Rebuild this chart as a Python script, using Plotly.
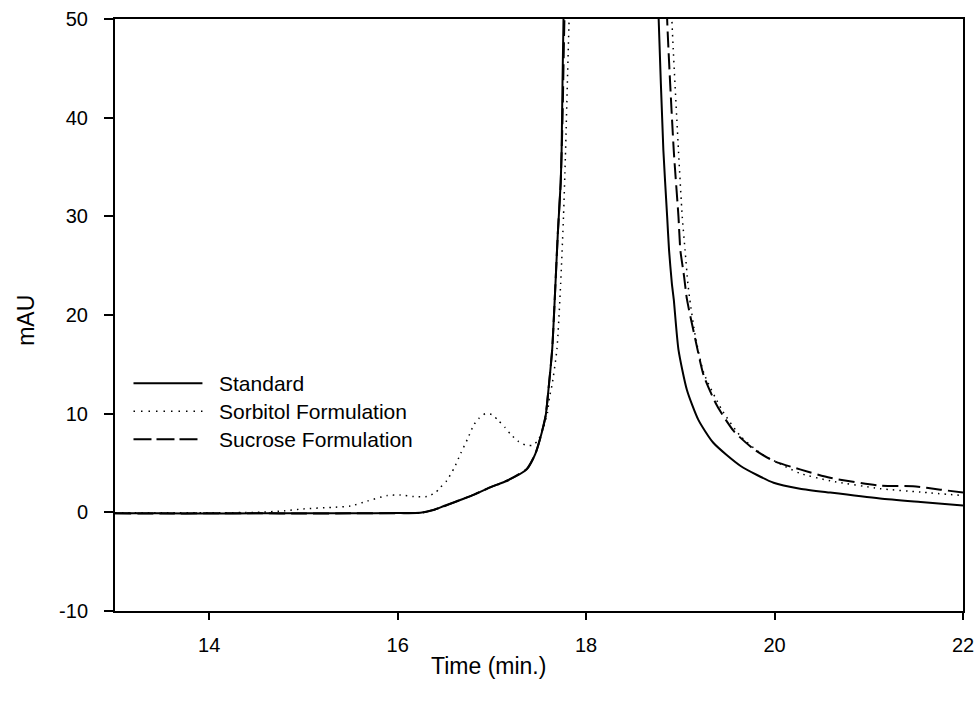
import plotly.graph_objects as go

# ---- data ----
standard_x = [13.0, 13.5, 14.0, 14.5, 15.0, 15.5, 16.0, 16.24, 16.38, 16.49, 16.65, 16.81, 17.0, 17.16,
              17.37, 17.46, 17.51, 17.57, 17.60, 17.64, 17.67, 17.70, 17.73, 17.74, 17.76, 17.80, 18.3,
              18.74, 18.77, 18.82, 18.86, 18.88, 18.91, 18.93, 18.98, 19.07, 19.19, 19.35, 19.64, 19.99,
              20.27, 20.59, 21.12, 21.55, 22.0]
standard_y = [-0.1, -0.1, -0.12, -0.1, -0.1, -0.1, -0.08, -0.05, 0.23, 0.64, 1.2, 1.8, 2.6, 3.2,
              4.35, 5.9, 7.4, 9.75, 12.4, 16.5, 22.2, 28.3, 33.4, 36.7, 50, 60, 200,
              60, 50, 36.7, 30, 26.6, 23.2, 21.6, 16.5, 12.4, 9.4, 7.05, 4.7, 3.0,
              2.4, 2.0, 1.4, 1.05, 0.7]

sorbitol_x = [13.0, 13.5, 14.0, 14.5, 14.8, 15.0, 15.3, 15.5, 15.68, 15.89, 16.03, 16.17, 16.31, 16.40,
              16.45, 16.52, 16.60, 16.67, 16.74, 16.81, 16.86, 16.93, 17.0, 17.07, 17.14, 17.20, 17.28,
              17.36, 17.43, 17.49, 17.55, 17.59, 17.61, 17.64, 17.69, 17.73, 17.76, 17.78, 17.82, 17.86,
              18.4, 18.88, 18.91, 18.98, 19.02, 19.05, 19.08, 19.10, 19.16, 19.25, 19.44, 19.64, 19.85,
              20.06, 20.27, 20.59, 21.12, 21.55, 22.0]
sorbitol_y = [-0.05, -0.05, -0.05, 0.0, 0.15, 0.35, 0.5, 0.64, 1.15, 1.7, 1.75, 1.6, 1.6, 2.0,
              2.5, 3.2, 4.5, 6.0, 7.4, 8.9, 9.5, 10.0, 9.9, 9.3, 8.6, 7.9, 7.2,
              6.8, 6.8, 7.3, 8.7, 10.1, 11.6, 13.0, 16.5, 23.2, 30, 36, 50, 60,
              200, 60, 50, 36.7, 30, 26.6, 23.2, 21.6, 17.8, 14.1, 10.4, 7.7, 6.0,
              4.9, 3.95, 3.2, 2.4, 2.05, 1.7]

sucrose_x = [13.0, 13.5, 14.0, 14.5, 15.0, 15.5, 16.0, 16.25, 16.38, 16.49, 16.65, 16.81, 17.0, 17.16,
             17.37, 17.46, 17.51, 17.57, 17.60, 17.64, 17.67, 17.70, 17.73, 17.75, 17.77, 17.81, 18.4,
             18.84, 18.86, 18.93, 18.98, 19.0, 19.04, 19.07, 19.16, 19.25, 19.39, 19.57, 19.78, 19.99,
             20.27, 20.59, 21.12, 21.47, 21.76, 22.0]
sucrose_y = [-0.1, -0.12, -0.1, -0.1, -0.12, -0.1, -0.08, -0.05, 0.25, 0.6, 1.2, 1.8, 2.6, 3.2,
             4.4, 5.9, 7.4, 9.8, 12.4, 16.5, 22.2, 28.3, 33.4, 40, 50, 60, 200,
             60, 50, 36.7, 30, 26.6, 23.9, 21.6, 17.5, 13.8, 10.8, 8.2, 6.4, 5.2,
             4.35, 3.5, 2.7, 2.65, 2.3, 2.0]

series_names = ["Standard", "Sorbitol Formulation", "Sucrose Formulation"]
x_ticks = [14, 16, 18, 20, 22]
x_tick_labels = ["14", "16", "18", "20", "22"]
y_ticks = [-10, 0, 10, 20, 30, 40, 50]
y_tick_labels = ["-10", "0", "10", "20", "30", "40", "50"]

FONT = "Liberation Sans, Arial, sans-serif"

# plot-area geometry in pixels
W, H = 977, 711
L, R, T, B = 114.5, 14, 18.5, 100
PW, PH = W - L - R, H - T - B


def px(xp):
    return (xp - L) / PW


def py(yp):
    return (H - B - yp) / PH


styles = [
    dict(color="black", width=2, dash="solid", shape="spline", smoothing=0.6),
    dict(color="black", width=1.5, dash="1.5px,5px", shape="spline", smoothing=0.6),
    dict(color="black", width=2, dash="16px,6px", shape="spline", smoothing=0.6),
]
legend_styles = [
    dict(color="black", width=2, dash="solid"),
    dict(color="black", width=1.5, dash="1.5px,6px"),
    dict(color="black", width=2, dash="18px,5px"),
]

fig = go.Figure()
for name, xs, ys, st in zip(series_names,
                            [standard_x, sorbitol_x, sucrose_x],
                            [standard_y, sorbitol_y, sucrose_y],
                            styles):
    fig.add_trace(go.Scatter(x=xs, y=ys, mode="lines", name=name, line=st,
                             showlegend=False, hoverinfo="skip"))

# manual legend (long sample lines like the original)
leg_rows = [383, 411, 439]
shapes = []
annotations = []
for name, yrow, st in zip(series_names, leg_rows, legend_styles):
    shapes.append(dict(type="line", xref="paper", yref="paper",
                       x0=px(133), x1=px(202), y0=py(yrow), y1=py(yrow), line=st))
    annotations.append(dict(xref="paper", yref="paper", x=px(217), y=py(yrow),
                            text=name, showarrow=False, xanchor="left", yanchor="middle",
                            font=dict(family=FONT, size=21, color="black")))

# axis titles
annotations.append(dict(xref="paper", yref="paper", x=px(26), y=py(320), text="mAU",
                        textangle=-90, showarrow=False, xanchor="center", yanchor="middle",
                        font=dict(family=FONT, size=23, color="black")))
annotations.append(dict(xref="paper", yref="paper", x=px(488), y=py(666), text="Time (min.)",
                        showarrow=False, xanchor="center", yanchor="middle",
                        font=dict(family=FONT, size=23, color="black")))

fig.update_layout(
    width=W, height=H,
    margin=dict(l=L, r=R, t=T, b=B, pad=0, autoexpand=False),
    paper_bgcolor="white", plot_bgcolor="white",
    shapes=shapes, annotations=annotations,
    font=dict(family=FONT, size=20, color="black"),
)
fig.update_xaxes(range=[13, 22], tickvals=x_ticks, ticktext=x_tick_labels, ticks="outside",
                 ticklen=7, tickwidth=1.5, ticklabelstandoff=8, automargin=False,
                 tickcolor="black", showline=True, linecolor="black", linewidth=2, mirror=True,
                 showgrid=False, zeroline=False,
                 tickfont=dict(family=FONT, size=20, color="black"))
fig.update_yaxes(range=[-10, 50], tickvals=y_ticks, ticktext=y_tick_labels, ticks="outside",
                 ticklen=9, tickwidth=1.5, ticklabelstandoff=12, automargin=False,
                 tickcolor="black", showline=True, linecolor="black", linewidth=2, mirror=True,
                 showgrid=False, zeroline=False,
                 tickfont=dict(family=FONT, size=20, color="black"))

fig.write_html("out.html", config={"displayModeBar": False},
               post_script="document.body.style.margin='0';")
